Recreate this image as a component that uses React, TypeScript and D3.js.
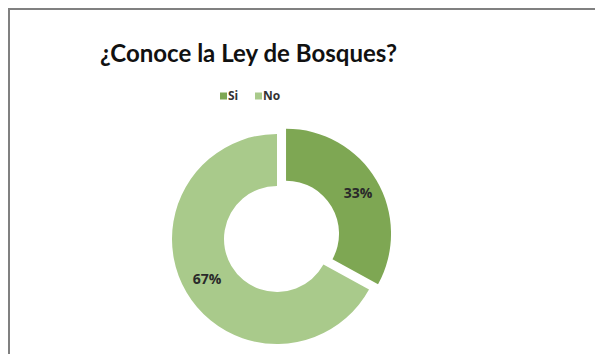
import React from "react";
import * as d3 from "d3";

const categories = ["Si", "No"];
const values = [33, 67];
const colors = ["#7ea753", "#a9ca8b"];
const title = "¿Conoce la Ley de Bosques?";

export default function App() {
  const W = 595, H = 354;
  const cx = 277, cy = 239, rOuter = 105, rInner = 53, explode = 10.5;
  const pie = d3.pie<number>().sort(null)(values);
  const arc = d3.arc<d3.PieArcDatum<number>>().innerRadius(rInner).outerRadius(rOuter);
  const labelArc = d3.arc<d3.PieArcDatum<number>>().innerRadius(79).outerRadius(79);
  const total = d3.sum(values);
  return (
    <svg width={W} height={H} style={{ position: "absolute", left: 0, top: 0 }}>
      <rect x={0} y={0} width={W} height={H} fill="#fff" />
      <rect x={9} y={9} width={W + 20} height={H + 20} fill="none" stroke="#808080" strokeWidth={2} />
      <text x={248.5} y={61.5} textAnchor="middle" fontFamily="Lato, 'Open Sans', sans-serif" fontWeight="bold" fontSize={24.5} fill="#111" textLength={297} lengthAdjust="spacingAndGlyphs">{title}</text>
      {categories.map((c, i) => {
        const lx = [220, 255][i];
        return (
          <g key={c}>
            <rect x={lx} y={92.5} width={7} height={7} fill={colors[i]} />
            <text x={lx + 8} y={100} fontFamily="'Open Sans', sans-serif" fontWeight="bold" fontSize={12} fill="#333">{c}</text>
          </g>
        );
      })}
      {pie.map((p, i) => {
        const mid = (p.startAngle + p.endAngle) / 2;
        const off = i === 0 ? explode : 0;
        const dx = Math.sin(mid) * off, dy = -Math.cos(mid) * off;
        const [tx, ty] = labelArc.centroid(p);
        return (
          <g key={i} transform={`translate(${cx + dx},${cy + dy})`}>
            <path d={arc(p) || ""} fill={colors[i]} />
            <text x={i === 0 ? tx + 4 : tx - 2} y={ty} dy="0.35em" textAnchor="middle" fontFamily="'Open Sans', sans-serif" fontWeight="bold" fontSize={14} fill="#2a2a2a">{`${Math.round((values[i] / total) * 100)}%`}</text>
          </g>
        );
      })}
    </svg>
  );
}
